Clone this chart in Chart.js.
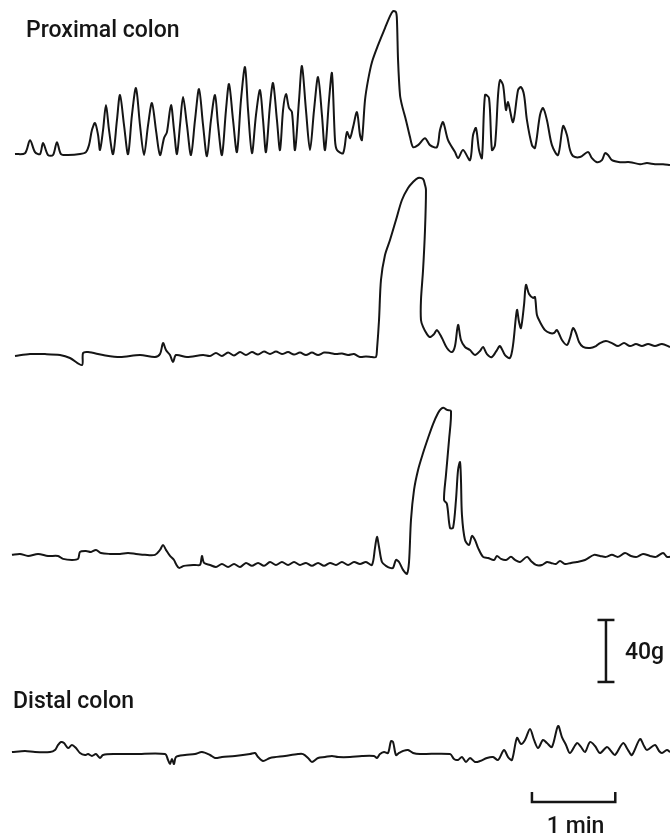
<!DOCTYPE html>
<html>
<head>
<meta charset="utf-8">
<title>Colon motility traces</title>
<script src="https://cdn.jsdelivr.net/npm/chart.js@4.4.1/dist/chart.umd.min.js"></script>
<style>
  html, body { margin: 0; padding: 0; background: #fff; }
  #wrap { width: 670px; height: 835px; position: relative; }
</style>
</head>
<body>
<div id="wrap"><canvas id="traces" width="670" height="835"></canvas></div>
<script>
// ---- Data: time (s) and force (g above each trace's own baseline) ----
const proxT = [10.8, 18.0, 21.6, 25.2, 28.8, 31.0, 34.6, 38.2, 41.0, 43.9, 49.0, 57.6, 61.9, 64.1, 66.2, 68.4, 70.6, 72.0, 74.2, 76.3, 78.5, 81.4, 84.2, 86.4, 89.3, 92.2, 95.0, 97.9, 100.8, 103.7, 106.6, 109.4, 112.3, 115.2, 118.1, 120.2, 123.1, 125.3, 127.4, 129.6, 131.8, 134.6, 137.5, 140.4, 143.3, 146.2, 149.0, 151.9, 154.8, 157.0, 159.8, 162.7, 164.9, 167.8, 170.6, 173.5, 176.4, 178.6, 181.4, 184.3, 187.2, 189.4, 191.5, 194.4, 196.6, 199.4, 201.6, 203.8, 205.9, 208.1, 210.2, 212.4, 215.3, 217.4, 220.3, 223.2, 226.1, 229.0, 231.8, 234.0, 236.9, 239.0, 241.2, 242.6, 247.0, 249.8, 252.0, 254.2, 257.0, 259.2, 260.6, 262.8, 265.0, 267.8, 272.2, 277.2, 280.8, 283.0, 285.1, 285.8, 286.6, 288.0, 289.4, 292.3, 295.2, 297.4, 301.0, 306.0, 309.6, 314.6, 316.8, 319.0, 322.6, 327.6, 329.8, 333.4, 338.4, 340.6, 342.7, 344.9, 347.0, 349.2, 352.1, 354.2, 356.4, 358.6, 360.0, 362.2, 364.3, 365.8, 369.4, 373.0, 375.1, 377.3, 379.4, 383.0, 385.2, 388.8, 391.0, 393.8, 397.4, 401.8, 405.4, 408.2, 410.4, 412.6, 417.6, 423.4, 426.2, 429.8, 433.4, 435.6, 437.8, 440.6, 446.4, 453.6, 460.8, 465.8, 471.6, 477.4, 482.4];
const proxF = [0, 0.6, 9.0, 1.3, 0, 7.1, -0.6, -0.6, 7.7, 0, -0.6, 0, 1.3, 5.8, 15.5, 20.0, 12.3, 2.6, 15.5, 31.6, 15.5, 0, 21.9, 38.1, 18.7, 0, 25.2, 42.6, 18.7, -0.6, 18.7, 32.9, 15.5, -0.6, 10.3, 14.2, 31.6, 15.5, 0, 18.7, 36.8, 18.7, -0.6, 21.9, 41.9, 18.7, -1.3, 21.9, 38.1, 18.7, -0.6, 28.4, 45.2, 21.9, 1.3, 34.8, 56.1, 28.4, 0.6, 25.2, 41.3, 21.9, 1.3, 31.6, 45.8, 21.9, 2.6, 28.4, 38.7, 29.7, 27.1, 2.6, 34.8, 56.8, 28.4, 2.6, 28.4, 49.7, 25.2, 2.6, 34.8, 52.2, 9.0, 2.6, 0.6, 14.2, 10.3, 17.4, 27.1, 12.3, 9.0, 34.8, 47.7, 59.3, 70.3, 81.3, 89.0, 92.2, 91.6, 86.4, 60.6, 38.1, 31.6, 21.9, 11.0, 4.5, 5.8, 10.3, 5.8, 4.5, 15.5, 20.6, 9.0, 1.3, -2.6, 2.6, -3.9, 12.3, 16.8, 2.6, -2.6, 38.1, 36.1, 2.6, 5.8, 38.1, 47.7, 44.5, 28.4, 33.5, 20.6, 41.3, 43.2, 38.1, 21.9, 5.8, 3.9, 25.2, 29.7, 21.9, 5.8, -0.6, 18.1, 12.3, 2.6, -1.3, -1.9, 1.3, -2.6, -5.2, -3.9, 0.6, -0.6, -3.9, -5.2, -5.2, -6.5, -5.8, -6.5, -6.5, -7.1];

const mid1T = [10.8, 21.6, 32.4, 43.2, 50.4, 59.0, 59.8, 63.4, 74.2, 86.4, 100.8, 111.6, 115.2, 117.4, 119.5, 122.4, 124.6, 126.7, 134.6, 146.2, 151.2, 155.5, 159.8, 164.2, 168.5, 172.8, 177.1, 181.4, 185.8, 190.1, 194.4, 198.7, 203.0, 207.4, 211.7, 216.0, 220.3, 224.6, 229.0, 233.3, 237.6, 241.9, 246.2, 250.6, 254.9, 259.2, 263.5, 267.8, 270.7, 271.4, 272.9, 274.3, 277.2, 280.8, 285.1, 289.4, 293.8, 297.4, 301.0, 304.6, 306.0, 306.7, 306.0, 304.6, 303.1, 303.1, 304.6, 307.4, 309.6, 312.5, 314.6, 318.2, 321.8, 325.4, 327.6, 329.8, 331.9, 334.8, 338.4, 342.0, 345.6, 347.8, 350.6, 354.2, 357.8, 360.0, 363.6, 367.2, 369.4, 372.2, 373.7, 375.1, 377.3, 378.7, 380.9, 383.8, 385.2, 386.6, 388.8, 392.4, 396.0, 398.9, 401.0, 404.6, 408.2, 410.4, 412.6, 414.7, 416.9, 419.8, 424.8, 429.1, 432.0, 436.3, 440.6, 445.0, 449.3, 453.6, 457.9, 462.2, 466.6, 471.6, 476.6, 482.4];
const mid1F = [-0.6, 0.6, 0.6, 0, -1.9, -6.5, 1.3, 1.9, 0, -1.3, 0, -1.3, 0.6, 7.7, 3.2, 0, -4.5, 0, -1.3, 0, -0.6, 1.3, -0.6, 1.6, -0.3, 1.9, 0, 1.9, 0.3, 2.3, 0.6, 2.3, 0.6, 1.9, 0.3, 1.6, 0, 1.6, 0, 1.6, 1.3, 0.6, 1.0, 0, 0.6, -1.3, -1.0, -1.3, -1.3, 3.2, 22.6, 48.4, 64.5, 74.2, 87.1, 100.0, 107.7, 111.6, 114.2, 113.5, 109.7, 106.5, 80.6, 54.8, 35.5, 22.6, 18.1, 13.5, 11.6, 13.5, 16.1, 11.0, 4.5, 1.9, 5.8, 19.4, 9.7, 5.2, 3.2, 0, 2.6, 5.2, 0.6, -1.3, 3.2, 5.8, 0, -1.9, 6.5, 29.0, 21.3, 17.4, 32.3, 45.2, 39.3, 36.8, 37.4, 25.8, 21.3, 16.1, 14.2, 14.2, 16.1, 9.7, 6.5, 11.0, 17.4, 14.2, 8.4, 5.2, 4.5, 5.8, 7.7, 9.0, 7.7, 5.8, 7.7, 5.8, 7.1, 5.8, 7.1, 5.8, 7.1, 5.2];

const mid2T = [8.6, 14.4, 20.2, 27.4, 34.6, 41.8, 45.4, 51.8, 56.2, 57.6, 61.9, 65.5, 69.1, 72.7, 79.2, 86.4, 92.2, 97.9, 104.4, 111.6, 115.2, 117.4, 119.5, 122.4, 125.3, 126.7, 128.9, 132.5, 140.4, 144.0, 145.4, 146.9, 151.2, 155.5, 159.8, 164.2, 168.5, 172.8, 177.1, 181.4, 185.8, 190.1, 194.4, 198.7, 203.0, 207.4, 211.7, 216.0, 220.3, 224.6, 229.0, 233.3, 237.6, 241.9, 246.2, 250.6, 254.9, 259.2, 263.5, 267.8, 270.0, 271.4, 272.9, 275.0, 277.9, 280.8, 283.0, 285.1, 287.3, 290.2, 293.0, 294.5, 295.9, 298.1, 301.0, 304.6, 308.2, 311.8, 315.4, 317.5, 319.7, 321.8, 324.7, 323.3, 321.1, 319.7, 321.8, 324.0, 326.2, 328.3, 329.8, 331.2, 331.9, 332.6, 334.8, 337.7, 339.8, 342.0, 344.2, 347.8, 351.4, 355.7, 357.8, 360.7, 364.3, 367.9, 370.8, 374.4, 379.4, 382.3, 385.9, 390.2, 393.8, 396.7, 400.3, 403.2, 406.8, 411.1, 415.4, 421.2, 427.7, 432.0, 436.3, 440.6, 445.0, 450.0, 454.3, 458.6, 463.0, 468.0, 472.3, 477.4, 480.2, 482.4];
const mid2F = [6.5, 7.1, 5.8, 7.1, 5.8, 5.8, 3.9, 3.2, 3.9, 8.4, 9.0, 8.4, 9.7, 7.7, 7.1, 7.1, 7.7, 7.1, 6.5, 6.5, 9.7, 12.9, 9.7, 5.8, 3.2, 0.6, -1.9, -0.6, 0, 0, 5.8, 1.3, 0, -1.3, 0.6, -1.3, 0.6, -1.3, 1.3, -0.6, 1.3, -0.6, 1.9, 0, 1.9, 0, 1.9, 0, 1.3, -0.6, 1.3, -0.6, 1.3, 0, 1.9, 0, 1.9, 0.6, 1.9, 0, 11.0, 18.1, 11.6, 1.9, -0.6, -1.9, -1.9, 3.2, 1.9, -3.2, -5.8, 1.9, 29.0, 48.4, 61.3, 72.2, 81.9, 90.9, 98.0, 100.6, 101.3, 100.0, 99.3, 80.6, 58.1, 41.9, 39.3, 23.9, 23.9, 41.9, 61.3, 66.4, 54.8, 32.3, 16.1, 12.9, 18.7, 16.1, 11.0, 5.2, 4.5, 3.2, 5.8, 3.9, 3.2, 5.2, 3.2, 1.9, 5.2, 2.6, 0, 0, 1.9, 1.3, 0.6, 2.6, 0.6, 1.3, 1.9, 3.2, 6.5, 5.8, 5.2, 6.5, 5.2, 7.7, 5.8, 5.2, 7.1, 5.8, 5.2, 7.7, 5.2, 5.2];

const distT = [8.6, 18.0, 25.2, 36.0, 39.6, 41.8, 43.9, 46.1, 49.0, 51.8, 54.7, 57.6, 61.2, 63.4, 66.2, 69.1, 72.0, 74.2, 82.8, 97.2, 118.8, 121.0, 122.4, 123.8, 125.3, 126.7, 133.2, 140.4, 145.4, 151.2, 154.8, 159.8, 169.2, 180.0, 183.6, 185.8, 189.4, 194.4, 205.2, 214.6, 218.2, 221.8, 224.6, 229.0, 234.0, 239.0, 243.4, 252.0, 260.6, 269.3, 271.4, 273.6, 276.5, 279.4, 281.5, 283.0, 285.1, 287.3, 290.2, 293.8, 297.4, 302.4, 324.0, 326.9, 329.8, 332.6, 335.5, 338.4, 342.0, 345.6, 350.6, 355.0, 358.6, 362.9, 365.8, 368.6, 372.2, 375.1, 378.0, 381.6, 384.5, 387.4, 391.0, 393.8, 397.4, 401.8, 404.6, 407.5, 410.4, 415.4, 418.3, 421.2, 424.8, 428.4, 432.0, 437.0, 439.9, 442.8, 448.6, 452.2, 455.0, 460.8, 463.7, 465.8, 471.6, 474.5, 476.6, 480.2, 482.4];
const distF = [1.9, 2.6, 1.9, 1.9, 3.2, 6.5, 8.4, 7.7, 4.5, 6.5, 4.5, 1.3, 0, 0.6, -0.6, 0.6, -1.9, 0, 0.6, 0.6, 0.6, -3.2, -5.8, -2.6, -5.8, -1.3, 0, 0.6, 1.9, 0, -1.9, -1.3, -0.6, 0.6, 1.3, -1.3, -3.9, -1.9, -0.6, 0.6, 0.6, -1.9, -4.5, -1.9, -1.3, -0.6, -1.3, -1.3, -0.6, -0.6, -1.9, 0.6, 1.9, 1.3, 9.0, 8.4, 0, 1.3, 2.6, 3.2, 1.3, 0.6, 0.6, -2.6, -3.2, -1.3, -4.5, -1.9, -4.5, -3.9, -1.9, -1.3, -3.2, 3.2, -1.3, -3.2, 11.0, 7.1, 9.7, 16.8, 9.7, 4.5, 9.7, 7.7, 5.2, 18.7, 11.6, 6.5, 1.3, 7.7, 5.2, 1.9, 8.4, 5.8, 1.3, 5.2, 2.6, 0, 7.7, 3.2, 0, 10.3, 5.8, 3.2, 6.5, 2.6, 1.3, 3.2, 1.9];

// calibration bars
const forceBarG = 40;   // 40g
const timeBarS = 60;    // 1 min

// ---- Layout (axis units) ----
const X_MAX = 482.4;     // seconds across the canvas
const Y_MAX = 538.6;     // grams up the canvas
const bases = { prox: 439.2, mid1: 309.6, mid2: 174.2, dist: 51.6 };
const forceBar = { t: 436.3, g0: 98.7, cap: 6.1 };
const timeBar = { t0: 383.0, g: 21.3, tick: 6.4 };

const INK = '#151515';

function trace(ts, fs, base) {
  return ts.map((t, i) => ({ x: t, y: base + fs[i] }));
}

function lineSet(points, width, tension) {
  return {
    data: points,
    borderColor: INK,
    borderWidth: width,
    pointRadius: 0,
    tension: tension,
    fill: false
  };
}

const fb = forceBar, tb = timeBar;
const datasets = [
  lineSet(trace(proxT, proxF, bases.prox), 2, 0.3),
  lineSet(trace(mid1T, mid1F, bases.mid1), 2, 0.3),
  lineSet(trace(mid2T, mid2F, bases.mid2), 2, 0.3),
  lineSet(trace(distT, distF, bases.dist), 2, 0.3),
  // 40g bar with caps
  lineSet([{ x: fb.t, y: fb.g0 }, { x: fb.t, y: fb.g0 + forceBarG }], 2.5, 0),
  lineSet([{ x: fb.t - fb.cap, y: fb.g0 + forceBarG }, { x: fb.t + fb.cap, y: fb.g0 + forceBarG }], 2.5, 0),
  lineSet([{ x: fb.t - fb.cap, y: fb.g0 }, { x: fb.t + fb.cap, y: fb.g0 }], 2.5, 0),
  // 1 min bar
  lineSet([
    { x: tb.t0, y: tb.g + tb.tick }, { x: tb.t0, y: tb.g },
    { x: tb.t0 + timeBarS, y: tb.g }, { x: tb.t0 + timeBarS, y: tb.g + tb.tick }
  ], 2.5, 0)
];

// ---- Text labels ----
const labelPlugin = {
  id: 'labels',
  afterDraw(chart) {
    const ctx = chart.ctx;
    const xs = chart.scales.x, ys = chart.scales.y;
    ctx.save();
    ctx.fillStyle = INK;
    ctx.font = '500 23px Roboto, "Liberation Sans", Arial, sans-serif';
    ctx.textBaseline = 'alphabetic';
    ctx.textAlign = 'left';
    ctx.fillText('Proximal colon', 26, 37);
    ctx.fillText('Distal colon', 13, 708);
    // scale labels placed next to their bars
    ctx.fillText('40g', xs.getPixelForValue(fb.t) + 19, ys.getPixelForValue(fb.g0 + forceBarG / 2) + 8);
    ctx.textAlign = 'center';
    ctx.fillText('1 min', xs.getPixelForValue(tb.t0 + timeBarS / 2) + 2, 833);
    ctx.restore();
  }
};

new Chart(document.getElementById('traces'), {
  type: 'line',
  data: { datasets },
  options: {
    responsive: false,
    animation: false,
    devicePixelRatio: 1,
    layout: { padding: 0 },
    plugins: { legend: { display: false }, tooltip: { enabled: false } },
    scales: {
      x: { type: 'linear', min: 0, max: X_MAX, display: false },
      y: { type: 'linear', min: 0, max: Y_MAX, display: false }
    }
  },
  plugins: [labelPlugin]
});
</script>
</body>
</html>
